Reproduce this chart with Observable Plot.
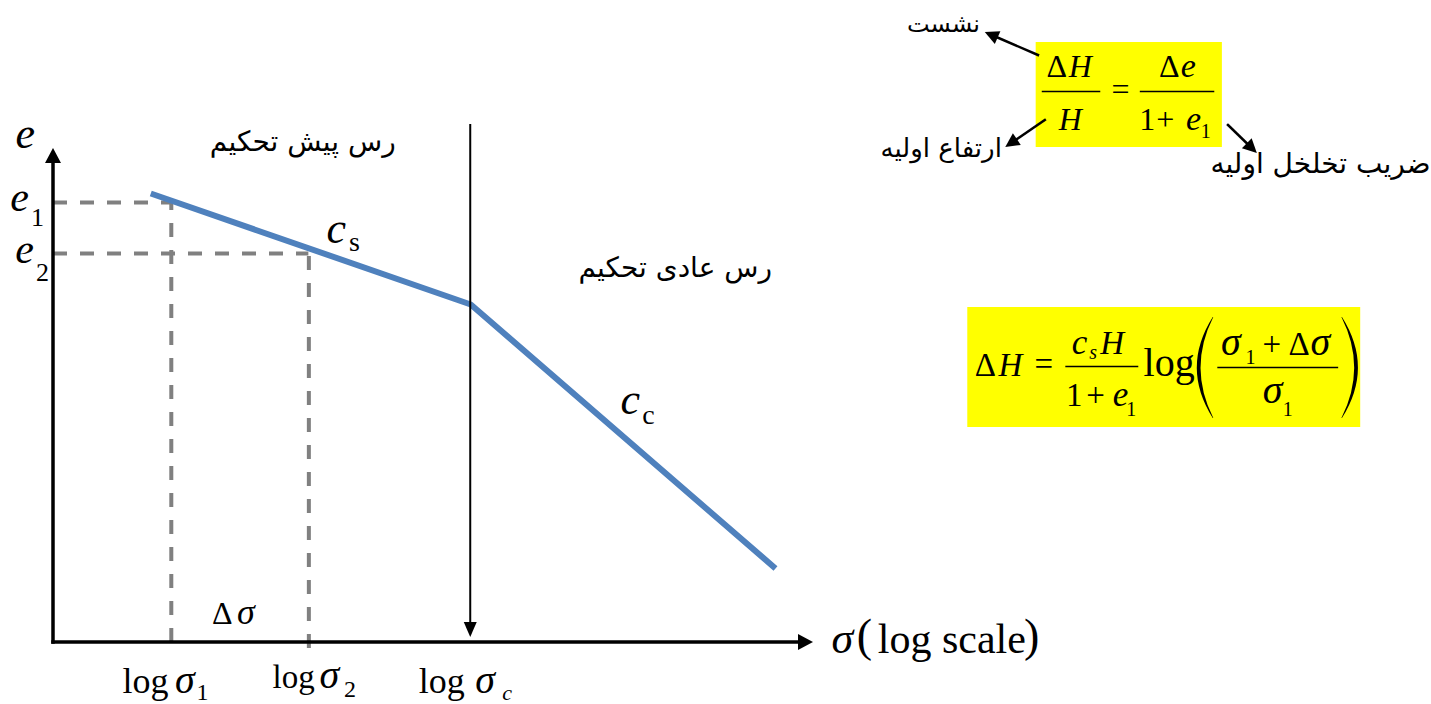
<!DOCTYPE html>
<html><head><meta charset="utf-8">
<script src="https://cdn.jsdelivr.net/npm/d3@7"></script>
<script src="https://cdn.jsdelivr.net/npm/@observablehq/plot@0.6"></script>
<style>html,body{margin:0;padding:0;background:#fff;} svg{display:block;}</style>
</head><body><div id="chart"></div>
<script>
// ---- data (x: log σ units, y: void ratio e units) ----
const curveLogSigma = [1.28, 5.49, 9.5];
const curveVoidRatio = [8.98, 6.76, 1.48];
const eLevels = [8.8, 7.78];          // e1, e2
const sigmaLevels = [1.55, 3.36];     // log σ1, log σ2
const sigmaC = 5.49;                  // log σc
const curve = curveLogSigma.map((x, i) => ({x, y: curveVoidRatio[i]}));

// ---- annotation layer (positions in data units) ----
const italicLabels = [
  {t:"e", x:-0.37, y:9.9, s:44},
  {t:"e", x:-0.447, y:8.64, s:42},
  {t:"e", x:-0.38, y:7.6, s:42},
  {t:"c", x:3.72, y:8.0, s:44},
  {t:"c", x:7.59, y:4.58, s:44},
  {t:"σ", x:2.53, y:0.38, s:36},
  {t:"σ", x:1.73, y:-1.0, s:40},
  {t:"σ", x:3.63, y:-0.9, s:40},
  {t:"σ", x:5.68, y:-1.0, s:40},
  {t:"c", x:5.97, y:-1.14, s:22},
  {t:"σ", x:10.38, y:-0.2, s:44},
  {t:"H", x:13.51, y:11.32, s:32},
  {t:"H", x:13.38, y:10.26, s:32},
  {t:"e", x:14.93, y:11.32, s:34},
  {t:"e", x:15.0, y:10.26, s:34},
  {t:"H", x:12.59, y:5.34, s:33},
  {t:"c", x:13.5, y:5.78, s:35},
  {t:"s", x:13.68, y:5.68, s:20},
  {t:"H", x:13.93, y:5.78, s:33},
  {t:"e", x:14.04, y:4.74, s:35},
  {t:"σ", x:15.49, y:5.76, s:40},
  {t:"σ", x:16.67, y:5.76, s:40},
  {t:"σ", x:16.04, y:4.8, s:40}
];
const romanLabels = [
  {t:"1", x:-0.21, y:8.34, s:26},
  {t:"2", x:-0.145, y:7.24, s:26},
  {t:"s", x:3.96, y:7.84, s:28},
  {t:"c", x:7.83, y:4.38, s:28},
  {t:"Δ", x:2.22, y:0.38, s:32},
  {t:"log", x:1.21, y:-1.0, s:36},
  {t:"1", x:1.96, y:-1.14, s:24},
  {t:"log", x:3.16, y:-0.9, s:33},
  {t:"2", x:3.9, y:-1.08, s:24},
  {t:"log", x:5.11, y:-1.0, s:36},
  {t:"(", x:10.67, y:-0.16, s:46},
  {t:"log scale", x:11.82, y:-0.2, s:42},
  {t:")", x:12.87, y:-0.16, s:46},
  {t:"Δ", x:13.20, y:11.32, s:32},
  {t:"=", x:14.04, y:10.86, s:32},
  {t:"Δ", x:14.68, y:11.32, s:32},
  {t:"1", x:14.39, y:10.26, s:32},
  {t:"+", x:14.63, y:10.26, s:32},
  {t:"1", x:15.16, y:10.1, s:20},
  {t:"Δ", x:12.26, y:5.34, s:33},
  {t:"=", x:13.03, y:5.36, s:33},
  {t:"1", x:13.43, y:4.74, s:33},
  {t:"+", x:13.71, y:4.74, s:33},
  {t:"1", x:14.18, y:4.54, s:20},
  {t:"log", x:14.68, y:5.34, s:40},
  {t:"1", x:15.75, y:5.58, s:20},
  {t:"+", x:16.03, y:5.76, s:33},
  {t:"Δ", x:16.39, y:5.76, s:33},
  {t:"1", x:16.24, y:4.54, s:20}
];
const persianLabels = [
  {t:"رس پیش تحکیم", x:3.28, y:9.84, s:28},
  {t:"رس عادی تحکیم", x:8.18, y:7.32, s:28},
  {t:"نشست", x:11.71, y:12.22, s:24},
  {t:"ارتفاع اولیه", x:11.68, y:9.72, s:26},
  {t:"ضریب تخلخل اولیه", x:16.67, y:9.4, s:28}
];
const formulaBoxes = [
  {x1:12.93, x2:15.38, y1:9.9, y2:12.0},
  {x1:12.03, x2:17.20, y1:4.3, y2:6.7}
];
const fractionBars = [
  {x1:13.01, x2:13.78, y:11.02},
  {x1:14.30, x2:15.28, y:11.02},
  {x1:13.32, x2:14.28, y:5.52},
  {x1:15.32, x2:16.91, y:5.5}
];
const bigParens = [
  {xEnd:15.26, xBulge:15.05, yTop:6.5, yBottom:4.48},
  {xEnd:16.96, xBulge:17.17, yTop:6.5, yBottom:4.48}
];
const arrows = [
  {x1:0, y1:0, x2:0, y2:9.88, w:3.5, len:15, hw:8},
  {x1:0, y1:0, x2:10, y2:0, w:3.5, len:15, hw:8},
  {x1:sigmaC, y1:10.34, x2:sigmaC, y2:0.1, w:2, len:15, hw:6.5},
  {x1:12.96, y1:11.74, x2:12.26, y2:12.2, w:2.5, len:14, hw:7},
  {x1:13.05, y1:10.44, x2:12.53, y2:9.9, w:2.5, len:14, hw:7},
  {x1:15.46, y1:10.34, x2:15.84, y2:9.78, w:2.5, len:14, hw:7}
];
const dashBottoms = [0, -0.12];

function arrowMark(list) {
  return (index, scales) => {
    const g = d3.create("svg:g");
    for (const a of list) {
      const x1 = scales.x(a.x1), y1 = scales.y(a.y1), x2 = scales.x(a.x2), y2 = scales.y(a.y2);
      const L = Math.hypot(x2 - x1, y2 - y1), ux = (x2 - x1) / L, uy = (y2 - y1) / L;
      const bx = x2 - ux * a.len, by = y2 - uy * a.len;
      g.append("line").attr("x1", x1).attr("y1", y1).attr("x2", bx + ux * 2).attr("y2", by + uy * 2)
        .attr("stroke", "#000").attr("stroke-width", a.w).attr("stroke-linecap", "square");
      g.append("path")
        .attr("d", `M${x2},${y2}L${bx - uy * a.hw},${by + ux * a.hw}L${bx + uy * a.hw},${by - ux * a.hw}Z`)
        .attr("fill", "#000");
    }
    return g.node();
  };
}
function parenMark(list) {
  return (index, scales) => {
    const g = d3.create("svg:g");
    for (const p of list) {
      const xe = scales.x(p.xEnd), xb = scales.x(p.xBulge), yt = scales.y(p.yTop), yb = scales.y(p.yBottom);
      const ym = (yt + yb) / 2, dir = Math.sign(xe - xb);
      const cOut = xe - 2 * (xe - xb), cIn = cOut + dir * 7;
      g.append("path")
        .attr("d", `M${xe},${yt}Q${cOut},${ym} ${xe},${yb}L${xe + dir * 0.5},${yb}Q${cIn},${ym} ${xe + dir * 0.5},${yt}Z`)
        .attr("fill", "#000");
    }
    return g.node();
  };
}

const serif = "Liberation Serif, Times New Roman, serif";
const chart = Plot.plot({
  width: 1431,
  height: 704,
  margin: 0,
  x: {type: "linear", domain: [0, 10], range: [53, 813], axis: null},
  y: {type: "linear", domain: [0, 10], range: [642, 142], axis: null},
  style: {background: "#fff", overflow: "visible"},
  marks: [
    Plot.rect(formulaBoxes, {x1: "x1", x2: "x2", y1: "y1", y2: "y2", fill: "#ffff00"}),
    Plot.ruleY(eLevels, {y: d => d, x1: 0, x2: (d, i) => sigmaLevels[i], stroke: "#808080", strokeWidth: 4, strokeDasharray: "14,13"}),
    Plot.ruleX(sigmaLevels, {x: d => d, y1: (d, i) => dashBottoms[i], y2: (d, i) => eLevels[i], stroke: "#808080", strokeWidth: 4, strokeDasharray: "14,13"}),
    Plot.line(curve, {x: "x", y: "y", stroke: "#4f81bd", strokeWidth: 6, strokeLinecap: "butt", strokeLinejoin: "miter"}),
    arrowMark(arrows),
    Plot.ruleY(fractionBars, {y: "y", x1: "x1", x2: "x2", stroke: "#000", strokeWidth: 1.6}),
    parenMark(bigParens),
    Plot.text(italicLabels, {x: "x", y: "y", text: "t", fontSize: "s", fontFamily: serif, fontStyle: "italic", lineAnchor: "bottom", textAnchor: "middle", fill: "#000"}),
    Plot.text(romanLabels, {x: "x", y: "y", text: "t", fontSize: "s", fontFamily: serif, lineAnchor: "bottom", textAnchor: "middle", fill: "#000"}),
    Plot.text(persianLabels, {x: "x", y: "y", text: "t", fontSize: "s", fontFamily: "DejaVu Sans, sans-serif", lineAnchor: "bottom", textAnchor: "middle", fill: "#000"})
  ]
});
document.getElementById("chart").appendChild(chart);
</script>
</body></html>
